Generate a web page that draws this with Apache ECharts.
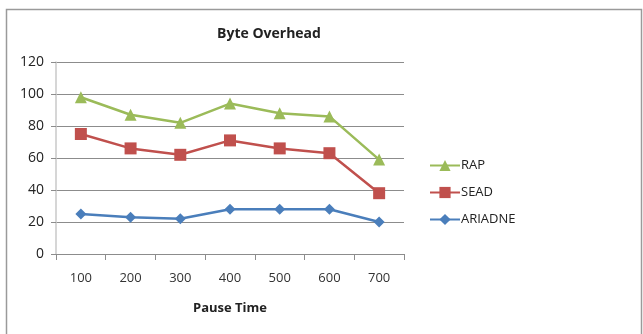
<!DOCTYPE html>
<html>
<head>
<meta charset="utf-8">
<script src="https://cdn.jsdelivr.net/npm/echarts@6/dist/echarts.min.js"></script>
<style>
  html, body { margin: 0; padding: 0; background: #fff; }
  #chart { width: 643px; height: 334px; }
</style>
</head>
<body>
<div id="chart"></div>
<script>
// Pause time categories and byte overhead per protocol
const pauseTimes = ['100', '200', '300', '400', '500', '600', '700'];
const rap = [98, 87, 82, 94, 88, 86, 59];
const sead = [75, 66, 62, 71, 66, 63, 38];
const ariadne = [25, 23, 22, 28, 28, 28, 20];
const yTicks = { min: 0, max: 120, interval: 20 };

const FONT = 'Open Sans';
const chart = echarts.init(document.getElementById('chart'), null, { renderer: 'canvas' });

function lineSeries(name, data, color, symbol, size) {
  return {
    name: name,
    type: 'line',
    data: data,
    symbol: symbol,
    symbolSize: size,
    lineStyle: { color: color, width: 2.5 },
    itemStyle: { color: color },
    emphasis: { disabled: true }
  };
}

chart.setOption({
  animation: false,
  textStyle: { fontFamily: FONT },
  graphic: [{
    type: 'rect',
    shape: { x: 6.5, y: 9.5, width: 635, height: 340 },
    style: { fill: 'none', stroke: '#9a9a9a', lineWidth: 1.5 },
    silent: true
  }],
  title: {
    text: 'Byte Overhead',
    left: 264, top: 22, textAlign: 'center',
    textStyle: { fontFamily: FONT, fontSize: 14, fontWeight: 'bold', color: '#222' }
  },
  legend: {
    orient: 'vertical',
    left: 424, top: 154,
    itemWidth: 30, itemHeight: 14, itemGap: 14,
    textStyle: { fontFamily: FONT, fontSize: 13, color: '#222', padding: [0, 0, 0, -4] },
    data: ['RAP', 'SEAD', 'ARIADNE']
  },
  grid: { left: 56, top: 62, width: 348, height: 192, containLabel: false },
  xAxis: {
    type: 'category',
    data: pauseTimes,
    boundaryGap: true,
    name: 'Pause Time',
    nameLocation: 'middle',
    nameGap: 48,
    nameTextStyle: { fontFamily: FONT, fontSize: 13, fontWeight: 'bold', color: '#222' },
    axisLine: { lineStyle: { color: '#8c8c8c', width: 1 } },
    axisTick: { show: true, length: 6, lineStyle: { color: '#8c8c8c' } },
    axisLabel: { fontFamily: FONT, fontSize: 13, color: '#333', margin: 18 }
  },
  yAxis: {
    type: 'value',
    min: yTicks.min, max: yTicks.max, interval: yTicks.interval,
    axisLine: { show: true, lineStyle: { color: '#c8c8c8', width: 1.5 } },
    axisTick: { show: true, length: 5, lineStyle: { color: '#8c8c8c' } },
    axisLabel: { fontFamily: FONT, fontSize: 14, color: '#222', margin: 12 },
    splitLine: { lineStyle: { color: '#8c8c8c', width: 1 } }
  },
  series: [
    lineSeries('RAP', rap, '#9bbb59', 'triangle', 12),
    lineSeries('SEAD', sead, '#c0504d', 'rect', 12),
    lineSeries('ARIADNE', ariadne, '#4a7ebb', 'diamond', 11)
  ]
});
</script>
</body>
</html>
